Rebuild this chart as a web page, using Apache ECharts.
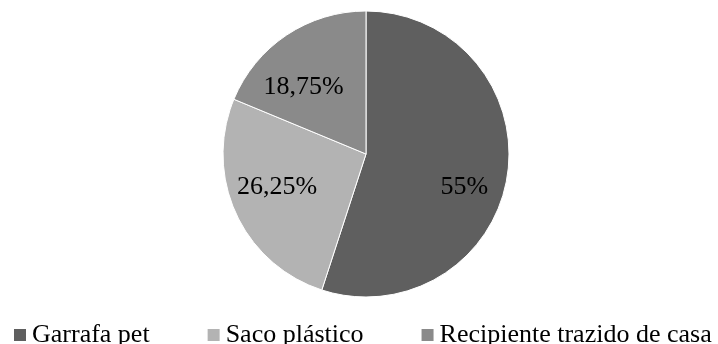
<!DOCTYPE html>
<html>
<head>
<meta charset="utf-8">
<script src="https://cdn.jsdelivr.net/npm/echarts@6/dist/echarts.min.js"></script>
<style>
  html, body { margin: 0; padding: 0; background: #fff; }
  #pie { width: 718px; height: 344px; }
</style>
</head>
<body>
<div id="pie"></div>
<script>
// datos
const categories = ['Garrafa pet', 'Saco plástico', 'Recipiente trazido de casa'];
const values = [55, 26.25, 18.75];
const labels = ['55%', '26,25%', '18,75%'];
const colors = ['#5f5f5f', '#b3b3b3', '#8a8a8a'];
// pequeños ajustes de la etiqueta (como en Excel)
const labelNudge = [[-4, 17], [5, -10], [-5, 19]];

const serif = '"Liberation Serif", "DejaVu Serif", serif';

const option = {
    animation: false,
    legend: {
        top: 322,
        left: 12,
        padding: 0,
        itemWidth: 14,
        itemHeight: 14,
        itemGap: 56,
        icon: 'rect',
        textStyle: { fontFamily: serif, fontSize: 26, color: '#000' },
        data: categories
    },
    series: [
        {
            type: 'pie',
            center: [366, 154],
            radius: [0, 143],
            startAngle: 90,
            clockwise: true,
            silent: true,
            label: { show: false },
            labelLine: { show: false },
            itemStyle: { borderColor: '#fff', borderWidth: 1 },
            data: categories.map((name, i) => ({
                name: name,
                value: values[i],
                itemStyle: { color: colors[i] }
            }))
        },
        {
            // capa transparente solo para colocar las etiquetas
            type: 'pie',
            center: [366, 154],
            radius: [58, 143],
            startAngle: 90,
            clockwise: true,
            silent: true,
            legendHoverLink: false,
            label: {
                show: true,
                position: 'inside',
                fontFamily: serif,
                fontSize: 26,
                color: '#000'
            },
            labelLine: { show: false },
            itemStyle: { color: 'rgba(0,0,0,0)' },
            data: categories.map((name, i) => ({
                name: name + ' ',
                value: values[i],
                label: { formatter: labels[i], offset: labelNudge[i] }
            }))
        }
    ]
};

const chart = echarts.init(document.getElementById('pie'));
chart.setOption(option);
</script>
</body>
</html>
